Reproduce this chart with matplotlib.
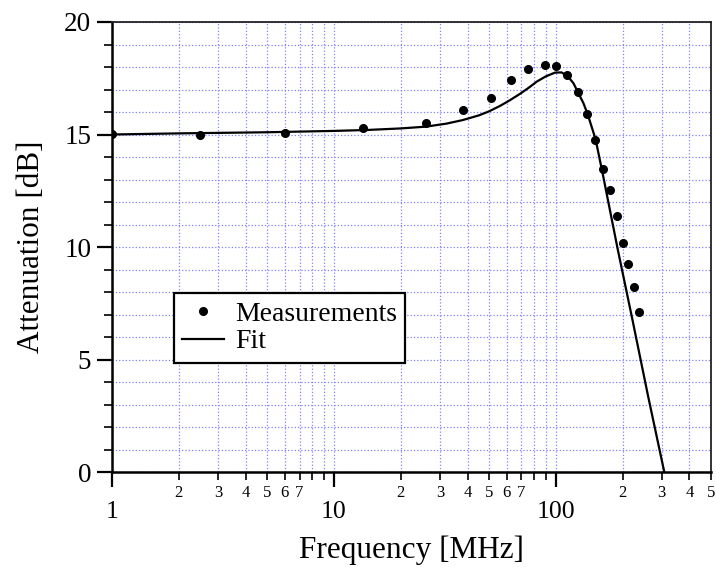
import numpy as np
import matplotlib
matplotlib.use("Agg")
import matplotlib.pyplot as plt
from matplotlib.ticker import LogLocator, FixedLocator, FuncFormatter, MultipleLocator

# measured attenuation
meas_freq = [1, 2.5, 6, 13.5, 26, 38, 51, 63, 75, 89, 100, 112, 126, 138, 150,
             163, 175, 188, 201, 212, 225, 237]
meas_db = [15.01, 15.0, 15.05, 15.3, 15.52, 16.07, 16.61, 17.44, 17.91, 18.09,
           18.03, 17.63, 16.87, 15.9, 14.77, 13.47, 12.53, 11.38, 10.19, 9.24,
           8.21, 7.11]

# fit curve
fit_freq = [1, 2, 5, 10, 14, 20, 26, 32, 38, 45, 50, 56, 62, 69, 76, 82, 90,
            99, 106, 113, 120, 126, 133, 139, 151, 163, 190, 221, 260, 308]
fit_db = [15.0, 15.05, 15.1, 15.16, 15.2, 15.27, 15.35, 15.48, 15.64, 15.85,
          16.03, 16.27, 16.52, 16.81, 17.1, 17.35, 17.58, 17.75, 17.76, 17.6,
          17.28, 16.86, 16.4, 15.91, 14.79, 13.2, 9.9, 6.8, 3.4, 0.0]

plt.rcParams['font.family'] = ['Liberation Serif', 'DejaVu Serif']

fig = plt.figure(figsize=(7.16, 5.67), dpi=100)
ax = fig.add_axes([0.1564, 0.1675, 0.8366, 0.7937])

ax.plot(fit_freq, fit_db, color='black', lw=1.6, label='Fit', zorder=3)
ax.plot(meas_freq, meas_db, 'o', color='black', ms=5.5, label='Measurements', zorder=4)

ax.set_xscale('log')
ax.set_xlim(1, 500)
ax.set_ylim(0, 20)

ax.xaxis.set_major_locator(FixedLocator([1, 10, 100]))
ax.xaxis.set_major_formatter(FuncFormatter(lambda v, p: '%d' % round(v)))
ax.xaxis.set_minor_locator(LogLocator(base=10, subs=np.arange(2, 10), numticks=20))


def minor_fmt(v, p):
    m = v / 10 ** np.floor(np.log10(v) + 1e-9)
    m = int(round(m))
    return str(m) if 2 <= m <= 7 else ''


ax.xaxis.set_minor_formatter(FuncFormatter(minor_fmt))
ax.yaxis.set_major_locator(MultipleLocator(5))
ax.yaxis.set_minor_locator(MultipleLocator(1))

ax.tick_params(which='major', direction='out', length=11, width=1.6)
ax.tick_params(which='minor', direction='out', length=5.5, width=1.2)
ax.tick_params(axis='x', which='major', labelsize=18.5, pad=10)
ax.tick_params(axis='x', which='minor', labelsize=12, pad=4)
ax.tick_params(axis='y', which='major', labelsize=19.5, pad=4)

for s in ['left', 'bottom']:
    ax.spines[s].set_linewidth(1.8)
for s in ['top', 'right']:
    ax.spines[s].set_linewidth(1.3)
    ax.spines[s].set_color('#222222')

ax.grid(True, which='both', color='#8080ff', linestyle=':', linewidth=0.9)
ax.set_axisbelow(True)

ax.set_xlabel('Frequency [MHz]', fontsize=22.5, labelpad=9)
ax.set_ylabel('Attenuation [dB]', fontsize=22.5, labelpad=13)

handles, labels = ax.get_legend_handles_labels()
leg = ax.legend(handles[::-1], labels[::-1], loc='upper left',
                bbox_to_anchor=(0.1035, 0.398), fontsize=20, numpoints=1,
                fancybox=False, framealpha=1, edgecolor='black',
                borderpad=0.3, handlelength=1.5, handletextpad=0.4,
                labelspacing=0.08, borderaxespad=0)
leg.get_frame().set_linewidth(1.6)

fig.savefig('out.png', dpi=100)
